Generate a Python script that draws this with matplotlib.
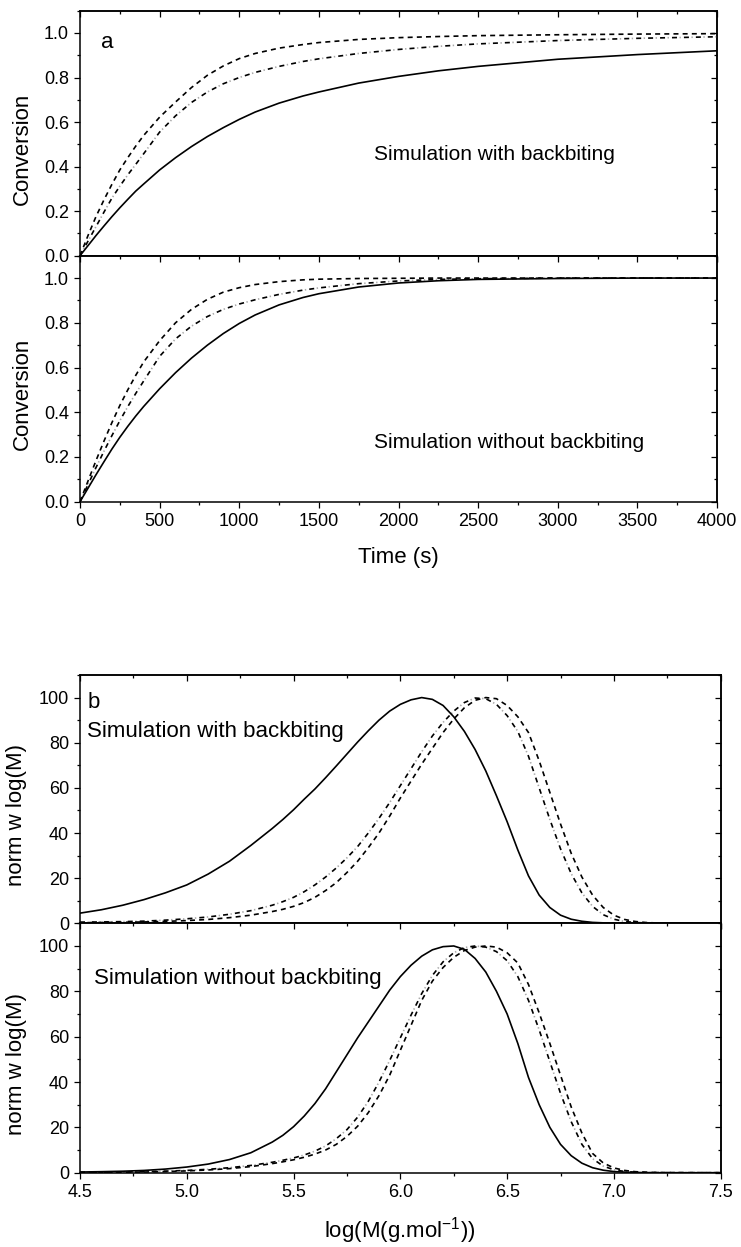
import matplotlib
matplotlib.use('Agg')
import matplotlib.pyplot as plt
from matplotlib.ticker import MultipleLocator, NullFormatter

plt.rcParams['font.family'] = ['Liberation Sans', 'DejaVu Sans']
plt.rcParams['mathtext.fontset'] = 'custom'
plt.rcParams['mathtext.rm'] = 'Liberation Sans'
plt.rcParams['mathtext.it'] = 'Liberation Sans:italic'
plt.rcParams['lines.scale_dashes'] = False

# ---------------- data: panel a (conversion vs time) ----------------
time_s = [0, 50, 100, 150, 200, 250, 300, 350, 400, 500, 600, 700, 800, 900, 1000,
          1100, 1250, 1400, 1500, 1750, 2000, 2250, 2500, 3000, 3500, 4000]
# with backbiting
conv_bb_solid = [0, 0.045, 0.09, 0.133, 0.175, 0.215, 0.253, 0.29, 0.322, 0.385, 0.44,
                 0.49, 0.535, 0.575, 0.612, 0.645, 0.685, 0.717, 0.735, 0.775, 0.805,
                 0.83, 0.85, 0.882, 0.903, 0.92]
conv_bb_dash = [0, 0.09, 0.175, 0.25, 0.32, 0.385, 0.44, 0.492, 0.54, 0.622, 0.69,
                0.755, 0.81, 0.852, 0.885, 0.908, 0.932, 0.948, 0.957, 0.971, 0.979,
                0.984, 0.988, 0.992, 0.995, 0.997]
conv_bb_dashdot = [0, 0.065, 0.13, 0.195, 0.258, 0.312, 0.363, 0.41, 0.458, 0.555, 0.628,
                   0.688, 0.735, 0.772, 0.80, 0.823, 0.85, 0.872, 0.884, 0.908, 0.926,
                   0.94, 0.951, 0.966, 0.976, 0.983]
# without backbiting
conv_nobb_solid = [0, 0.06, 0.12, 0.178, 0.235, 0.288, 0.337, 0.383, 0.426, 0.505, 0.577,
                   0.642, 0.70, 0.752, 0.797, 0.835, 0.88, 0.913, 0.93, 0.96, 0.978,
                   0.988, 0.994, 0.998, 1.0, 1.0]
conv_nobb_dash = [0, 0.092, 0.183, 0.27, 0.353, 0.43, 0.50, 0.565, 0.625, 0.72, 0.80,
                  0.86, 0.905, 0.937, 0.957, 0.971, 0.984, 0.992, 0.995, 0.998, 0.999,
                  1.0, 1.0, 1.0, 1.0, 1.0]
conv_nobb_dashdot = [0, 0.076, 0.152, 0.225, 0.295, 0.362, 0.425, 0.484, 0.54, 0.65, 0.728,
                     0.785, 0.828, 0.86, 0.884, 0.903, 0.927, 0.946, 0.956, 0.975, 0.987,
                     0.994, 0.997, 1.0, 1.0, 1.0]

# ---------------- data: panel b (MWD) ----------------
logM = [4.5, 4.6, 4.7, 4.8, 4.9, 5.0, 5.1, 5.2, 5.3,
        5.4, 5.45, 5.5, 5.55, 5.6, 5.65, 5.7, 5.75, 5.8, 5.85, 5.9, 5.95,
        6.0, 6.05, 6.1, 6.15, 6.2, 6.25, 6.3, 6.35, 6.4, 6.45, 6.5, 6.55,
        6.6, 6.65, 6.7, 6.75, 6.8, 6.85, 6.9, 6.95, 7.0, 7.05, 7.1, 7.15, 7.2,
        7.3, 7.5]
mwd_bb_solid = [4.5, 6, 8, 10.5, 13.5, 17, 21.8, 27.5, 34.5,
                42, 46, 50.3, 55, 59.5, 64.5, 69.7, 75, 80.3, 85.3, 90, 94,
                97, 99, 100, 99.2, 96.5, 91.5, 85, 77, 67.5, 56.5, 45, 32.5,
                21, 12.5, 7, 3.6, 1.8, 0.9, 0.4, 0.2, 0.1, 0.05, 0, 0, 0,
                0, 0]
mwd_bb_dash = [0.3, 0.35, 0.45, 0.6, 0.85, 1.2, 1.7, 2.5, 3.6,
               5.2, 6.2, 7.5, 9.2, 11.5, 14.5, 18, 22.5, 27.5, 33.5, 40, 47.5,
               55.5, 63, 70.5, 77.5, 84.5, 90.5, 95.5, 98.8, 100, 99.5, 96.5, 91.5,
               84.5, 72, 58, 44, 31, 20.5, 12.5, 7, 3.6, 1.7, 0.8, 0.35, 0.15,
               0.02, 0]
mwd_bb_dashdot = [0.5, 0.6, 0.75, 0.95, 1.4, 2.0, 2.8, 4.0, 5.6,
                  8, 9.6, 11.5, 14, 17, 20.5, 24.5, 29, 34, 40, 46.5, 53.5,
                  61, 68.5, 76, 83, 89, 94, 97.8, 99.8, 99.5, 97, 92, 85,
                  74, 60, 46, 33, 22, 13.5, 7.5, 3.8, 1.8, 0.8, 0.35, 0.15, 0.05,
                  0, 0]
mwd_nobb_solid = [0.3, 0.45, 0.65, 1.0, 1.6, 2.5, 3.8, 5.8, 8.8,
                  13.5, 16.5, 20.3, 25, 30.5, 37, 44.5, 52, 59.5, 66.5, 73.5, 80.5,
                  86.5, 91.5, 95.5, 98.3, 99.7, 100, 98.5, 94.5, 88.5, 80, 70, 57,
                  42, 30, 20, 12.5, 7.5, 4.2, 2.2, 1.1, 0.5, 0.25, 0.1, 0.05, 0,
                  0, 0]
mwd_nobb_dash = [0.1, 0.15, 0.2, 0.3, 0.5, 0.8, 1.2, 1.8, 2.7,
                 4.0, 4.8, 5.7, 6.8, 8.2, 10, 12.5, 16, 20.5, 26.5, 34, 43,
                 54, 65, 76, 84.5, 90.5, 95, 98, 99.5, 100, 99.5, 97, 92.5,
                 83, 70.5, 57, 43, 29, 17.5, 8.5, 4.3, 2.1, 1.0, 0.45, 0.2, 0.08,
                 0.01, 0]
mwd_nobb_dashdot = [0.15, 0.2, 0.3, 0.45, 0.7, 1.0, 1.5, 2.2, 3.2,
                    4.6, 5.5, 6.5, 7.8, 9.5, 11.8, 15, 19, 24.5, 31.5, 40, 49.5,
                    59.5, 69.5, 79, 87, 93, 97, 99.3, 100, 99.5, 97.5, 93.5, 86.5,
                    76, 63, 49, 35, 22.5, 12.5, 6.2, 2.9, 1.3, 0.55, 0.22, 0.08, 0.03,
                    0, 0]

# ---------------- layout ----------------
W, H = 741, 1247
fig = plt.figure(figsize=(W / 100, H / 100), dpi=100)


def add_ax(l, r, t, b):
    return fig.add_axes([l / W, 1 - b / H, (r - l) / W, (b - t) / H])


LW = 1.2


def solid(ax, x, y):
    ax.plot(x, y, color='black', lw=LW, solid_joinstyle='round')


def dashed(ax, x, y):
    ax.plot(x, y, color='black', lw=LW, linestyle=(0, (3.6, 3.0)))


def dashdot(ax, x, y):
    ax.plot(x, y, color='black', lw=LW, linestyle=(0, (3.6, 5.0)))
    ax.plot(x, y, color='#aaaaaa', lw=LW, linestyle=(3.2, (1.0, 7.6)))


def style(ax, xlim, ylim, xmaj, xmin, ymaj, ymin, showx):
    ax.set_xlim(xlim)
    ax.set_ylim(ylim)
    ax.xaxis.set_major_locator(MultipleLocator(xmaj))
    ax.xaxis.set_minor_locator(MultipleLocator(xmin))
    ax.yaxis.set_major_locator(MultipleLocator(ymaj))
    ax.yaxis.set_minor_locator(MultipleLocator(ymin))
    ax.tick_params(which='both', direction='out', width=0.9, labelsize=13, pad=3.5)
    ax.tick_params(which='major', length=4.5)
    ax.tick_params(which='minor', length=2.5)
    if not showx:
        ax.tick_params(axis='x', labelbottom=False)
    for s in ax.spines.values():
        s.set_linewidth(1.1)
    sx = ax.secondary_xaxis('top')
    sx.xaxis.set_major_locator(MultipleLocator(xmaj))
    sx.xaxis.set_minor_locator(MultipleLocator(xmin))
    sx.xaxis.set_major_formatter(NullFormatter())
    sx.tick_params(which='both', direction='in', width=0.9)
    sx.tick_params(which='major', length=4.5)
    sx.tick_params(which='minor', length=2.5)
    sx.spines['top'].set_linewidth(1.1)
    sy = ax.secondary_yaxis('right')
    sy.yaxis.set_major_locator(MultipleLocator(ymaj))
    sy.yaxis.set_minor_locator(MultipleLocator(ymin))
    sy.yaxis.set_major_formatter(NullFormatter())
    sy.tick_params(which='both', direction='in', width=0.9)
    sy.tick_params(which='major', length=4.5)
    sy.tick_params(which='minor', length=2.5)
    sy.spines['right'].set_linewidth(1.1)


# panel a
a1 = add_ax(80, 717, 10.7, 255.7)
a2 = add_ax(80, 717, 255.7, 501.7)
for ax, s, d, dd in [(a1, conv_bb_solid, conv_bb_dash, conv_bb_dashdot),
                     (a2, conv_nobb_solid, conv_nobb_dash, conv_nobb_dashdot)]:
    dashdot(ax, time_s, dd)
    dashed(ax, time_s, d)
    solid(ax, time_s, s)
style(a1, (0, 4000), (0, 1.1), 500, 250, 0.2, 0.1, False)
style(a2, (0, 4000), (0, 1.1), 500, 250, 0.2, 0.1, True)
for ax in (a1, a2):
    ax.set_yticks([0, 0.2, 0.4, 0.6, 0.8, 1.0])
    ax.set_yticklabels(['0.0', '0.2', '0.4', '0.6', '0.8', '1.0'])

a1.text(0.042, 0.872, 'a', transform=a1.transAxes, fontsize=16, ha='center', va='center')
a1.text(0.462, 0.415, 'Simulation with backbiting', transform=a1.transAxes,
        fontsize=15, ha='left', va='center')
a2.text(0.462, 0.239, 'Simulation without backbiting', transform=a2.transAxes,
        fontsize=15, ha='left', va='center')

fig.text(22 / W, 1 - 149 / H, 'Conversion', rotation=90, fontsize=16, ha='center', va='center')
fig.text(22 / W, 1 - 394 / H, 'Conversion', rotation=90, fontsize=16, ha='center', va='center')
fig.text(398 / W, 1 - 557 / H, 'Time (s)', fontsize=16, ha='center', va='center')

# panel b
b1 = add_ax(80, 720.7, 675, 923.3)
b2 = add_ax(80, 720.7, 923.3, 1172.7)
for ax, s, d, dd in [(b1, mwd_bb_solid, mwd_bb_dash, mwd_bb_dashdot),
                     (b2, mwd_nobb_solid, mwd_nobb_dash, mwd_nobb_dashdot)]:
    dashdot(ax, logM, dd)
    dashed(ax, logM, d)
    solid(ax, logM, s)
style(b1, (4.5, 7.5), (0, 110), 0.5, 0.25, 20, 10, False)
style(b2, (4.5, 7.5), (0, 110), 0.5, 0.25, 20, 10, True)
for ax in (b1, b2):
    ax.set_yticks([0, 20, 40, 60, 80, 100])
b2.set_xticks([4.5, 5.0, 5.5, 6.0, 6.5, 7.0, 7.5])
b2.set_xticklabels(['4.5', '5.0', '5.5', '6.0', '6.5', '7.0', '7.5'])

b1.text(0.022, 0.888, 'b', transform=b1.transAxes, fontsize=16, ha='center', va='center')
b1.text(0.011, 0.772, 'Simulation with backbiting', transform=b1.transAxes,
        fontsize=16, ha='left', va='center')
b2.text(0.022, 0.78, 'Simulation without backbiting', transform=b2.transAxes,
        fontsize=16, ha='left', va='center')

fig.text(17 / W, 1 - 815 / H, 'norm w log(M)', rotation=90, fontsize=16, ha='center', va='center')
fig.text(17 / W, 1 - 1064 / H, 'norm w log(M)', rotation=90, fontsize=16, ha='center', va='center')
fig.text(400 / W, 1 - 1231 / H, r'log(M(g.mol$^{\mathregular{-1}}$))', fontsize=16,
         ha='center', va='center')

fig.savefig('out.png', dpi=100)
